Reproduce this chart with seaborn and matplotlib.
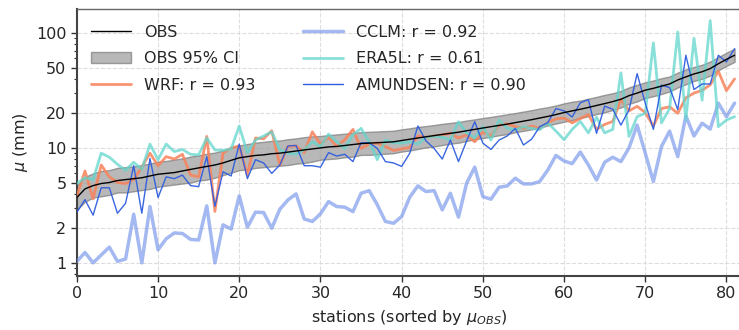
import numpy as np
import pandas as pd
import matplotlib
matplotlib.use("Agg")
import matplotlib.pyplot as plt
import seaborn as sns
from matplotlib.patches import Patch
from matplotlib.lines import Line2D

stations = list(range(82))

obs = [3.7, 4.4, 4.7, 4.9, 5.0, 5.2, 5.3, 5.4, 5.5, 5.7,
       5.9, 6.0, 6.1, 6.3, 6.5, 6.7, 6.9, 7.1, 7.4, 7.8,
       8.2, 8.4, 8.6, 8.7, 8.9, 9.0, 9.2, 9.4, 9.6, 9.8,
       10.0, 10.2, 10.3, 10.5, 10.7, 10.9, 11.0, 11.1, 11.2, 11.3,
       11.6, 11.9, 12.2, 12.5, 12.8, 13.1, 13.4, 13.7, 14.1, 14.5,
       14.9, 15.3, 15.7, 16.1, 16.6, 17.1, 17.6, 18.2, 18.8, 19.5,
       20.3, 21.0, 21.7, 22.5, 23.4, 24.3, 25.3, 26.5, 28.5, 30.0,
       31.8, 33.0, 34.5, 36.0, 39.0, 41.5, 44.0, 46.0, 49.0, 54.0,
       59.0, 64.0]

obs_ci_hi = [4.7, 5.6, 6.0, 6.3, 6.4, 6.7, 6.8, 6.9, 7.1, 7.3,
             7.6, 7.7, 7.9, 8.1, 8.4, 8.6, 8.9, 9.1, 9.5, 10.0,
             10.5, 10.8, 11.1, 11.3, 11.5, 11.6, 11.9, 12.1, 12.4, 12.6,
             12.7, 12.9, 13.1, 13.3, 13.5, 13.7, 13.8, 13.9, 14.0, 14.1,
             14.5, 14.8, 15.2, 15.5, 15.8, 16.2, 16.5, 16.8, 17.3, 17.7,
             18.2, 18.6, 19.1, 19.6, 20.1, 20.7, 21.3, 22.0, 22.6, 23.4,
             24.4, 25.2, 25.8, 26.8, 27.8, 28.9, 29.9, 31.3, 33.6, 35.4,
             37.2, 38.6, 40.4, 41.8, 45.2, 48.1, 50.6, 52.9, 56.4, 61.6,
             67.3, 73.0]

obs_ci_lo = [2.9, 3.4, 3.7, 3.8, 3.9, 4.1, 4.1, 4.2, 4.3, 4.4,
             4.6, 4.7, 4.8, 4.9, 5.0, 5.2, 5.3, 5.5, 5.8, 6.1,
             6.4, 6.5, 6.7, 6.8, 6.9, 7.0, 7.1, 7.3, 7.4, 7.6,
             7.9, 8.0, 8.1, 8.3, 8.4, 8.7, 8.7, 8.8, 8.9, 9.0,
             9.3, 9.5, 9.8, 10.1, 10.3, 10.6, 10.9, 11.1, 11.5, 11.9,
             12.2, 12.5, 12.9, 13.2, 13.7, 14.1, 14.5, 15.0, 15.7, 16.3,
             16.9, 17.5, 18.2, 18.9, 19.7, 20.4, 21.4, 22.5, 24.2, 25.4,
             27.2, 28.2, 29.5, 31.0, 33.6, 35.8, 38.3, 40.0, 42.6, 47.4,
             51.8, 56.1]

wrf = [3.8, 6.3, 3.6, 7.1, 5.6, 5.0, 4.9, 5.3, 6.8, 9.0,
       7.0, 8.4, 8.0, 8.8, 5.8, 5.6, 12.6, 2.8, 9.0, 10.0,
       10.4, 5.8, 12.2, 12.0, 14.1, 7.1, 10.3, 10.4, 9.1, 13.8,
       10.8, 12.4, 10.3, 11.8, 14.5, 9.9, 10.8, 11.0, 10.3, 9.5,
       9.8, 10.1, 12.7, 12.4, 12.7, 13.0, 13.4, 12.2, 13.0, 11.3,
       13.8, 12.7, 15.8, 16.2, 15.3, 14.8, 15.5, 14.8, 16.6, 17.9,
       18.2, 16.5, 18.0, 19.5, 14.5, 16.0, 17.0, 26.5, 21.0, 23.0,
       20.3, 15.5, 22.0, 22.8, 20.0, 27.3, 30.0, 31.7, 35.4, 46.5,
       31.5, 39.8]

cclm = [1.03, 1.23, 1.0, 1.17, 1.37, 1.03, 1.08, 2.65, 1.0, 3.09,
        1.3, 1.62, 1.82, 1.8, 1.6, 1.58, 3.13, 1.0, 2.14, 1.97,
        3.83, 2.04, 2.76, 2.74, 2.0, 2.93, 3.53, 3.98, 2.41, 2.29,
        2.67, 3.41, 3.09, 3.05, 2.79, 4.03, 4.25, 3.2, 2.29, 2.21,
        2.53, 3.73, 4.67, 4.17, 4.25, 2.89, 4.03, 2.5, 4.93, 6.8,
        3.77, 3.58, 4.55, 4.67, 5.45, 4.86, 4.86, 5.1, 6.43, 8.6,
        7.7, 7.3, 9.2, 7.1, 5.26, 7.5, 8.3, 7.6, 10.0, 15.8,
        9.0, 5.1, 10.3, 14.0, 8.4, 19.0, 12.7, 16.4, 14.6, 24.5,
        18.7, 24.5]

era5l = [4.9, 5.5, 5.3, 9.0, 8.3, 7.2, 6.4, 7.5, 6.5, 10.8,
         7.9, 10.8, 9.3, 9.7, 8.8, 8.7, 12.2, 9.6, 9.5, 9.8,
         15.5, 9.1, 11.7, 12.7, 13.8, 9.6, 9.0, 8.8, 9.6, 11.3,
         10.3, 13.2, 11.3, 9.9, 13.0, 14.8, 11.3, 7.9, 11.7, 11.1,
         11.0, 11.3, 10.8, 12.4, 12.6, 12.4, 11.7, 16.9, 13.5, 12.2,
         15.3, 11.7, 17.5, 14.8, 14.4, 15.3, 14.8, 14.4, 16.5, 14.0,
         11.8, 14.5, 17.0, 13.5, 18.5, 13.5, 14.5, 45.0, 12.6, 18.7,
         20.0, 82.0, 16.5, 22.0, 102.0, 17.5, 90.0, 26.0, 128.0, 15.3,
         17.5, 18.7]

amundsen = [2.75, 3.55, 2.6, 4.5, 4.5, 2.7, 3.3, 7.0, 2.7, 8.1,
            3.7, 5.6, 5.4, 5.8, 4.7, 4.6, 8.4, 3.1, 6.2, 5.7,
            10.8, 5.4, 7.9, 7.4, 6.0, 7.1, 10.4, 10.5, 7.0, 7.0,
            6.8, 9.1, 8.5, 8.8, 7.6, 11.1, 11.1, 9.9, 7.6, 7.4,
            6.9, 9.0, 15.5, 11.5, 9.9, 8.0, 11.7, 7.6, 11.5, 16.9,
            11.0, 9.7, 11.7, 12.7, 14.8, 10.6, 11.9, 15.3, 16.6, 22.0,
            21.0, 18.6, 24.7, 26.3, 13.4, 23.1, 21.7, 15.8, 21.4, 44.3,
            24.5, 14.5, 35.2, 33.5, 21.5, 64.0, 32.2, 36.0, 36.0, 64.0,
            56.0, 73.0]

labels = ["OBS", "OBS 95% CI", "WRF: r = 0.93", "CCLM: r = 0.92",
          "ERA5L: r = 0.61", "AMUNDSEN: r = 0.90"]
yticks = [1, 2, 5, 10, 20, 50, 100]
xticks = [0, 10, 20, 30, 40, 50, 60, 70, 80]

sns.set_theme(style="whitegrid")
plt.rcParams['font.family'] = ['DejaVu Sans']

fig = plt.figure(figsize=(7.39, 3.30), dpi=100)
ax = fig.add_axes([0.104, 0.164, 0.901, 0.809])

c_wrf = "#f9825a"
c_cclm = "#7393ea"
c_era = "#62d6cd"
c_amu = "#2f5de0"

ax.fill_between(stations, obs_ci_lo, obs_ci_hi, color="#a0a0a0",
                edgecolor="#808080", linewidth=1.0, alpha=0.75, zorder=2)
sns.lineplot(x=stations, y=wrf, ax=ax, color=c_wrf, lw=2.0, alpha=0.85, zorder=3)
sns.lineplot(x=stations, y=cclm, ax=ax, color=c_cclm, lw=2.5, alpha=0.65, zorder=3)
sns.lineplot(x=stations, y=era5l, ax=ax, color=c_era, lw=2.0, alpha=0.75, zorder=3)
sns.lineplot(x=stations, y=amundsen, ax=ax, color=c_amu, lw=1.0, alpha=0.95, zorder=4)
sns.lineplot(x=stations, y=obs, ax=ax, color="black", lw=1.0, zorder=5)

ax.set_yscale("log")
ax.set_ylim(0.77, 162)
ax.set_xlim(0, 82)
ax.set_yticks(yticks)
ax.set_yticklabels([str(t) for t in yticks])
ax.set_xticks(xticks)
ax.tick_params(axis="both", which="major", labelsize=11.5, length=4, width=1,
               color="#333333", direction="out", left=True, bottom=True)
ax.tick_params(axis="y", which="minor", length=2, width=0.8, color="#333333", left=True)
ax.grid(True, which="major", linestyle="--", color="#dddddd", linewidth=0.8)
ax.grid(False, which="minor")
for side in ["left", "bottom"]:
    ax.spines[side].set_color("#444444")
    ax.spines[side].set_linewidth(1.5)
ax.spines["top"].set_color("#666666")
ax.spines["top"].set_linewidth(1.0)
ax.spines["right"].set_visible(False)

ax.set_ylabel(r"$\mu$ (mm)", fontsize=11.5)
ax.set_xlabel(r"stations (sorted by $\mu_{OBS}$)", fontsize=11.5, labelpad=5)

handles = [
    Line2D([], [], color="black", lw=1.0),
    Patch(facecolor="#a0a0a0", edgecolor="#808080", alpha=0.75),
    Line2D([], [], color=c_wrf, lw=2.0, alpha=0.85),
    Line2D([], [], color=c_cclm, lw=2.5, alpha=0.65),
    Line2D([], [], color=c_era, lw=2.0, alpha=0.75),
    Line2D([], [], color=c_amu, lw=1.0),
]
ax.legend(handles, labels, ncol=2, loc="upper left", frameon=False,
          fontsize=11.5, handlelength=2.5, labelspacing=0.72,
          columnspacing=3.0, borderaxespad=0.5, bbox_to_anchor=(0.0, 0.995))

fig.savefig("out.png", dpi=100)
